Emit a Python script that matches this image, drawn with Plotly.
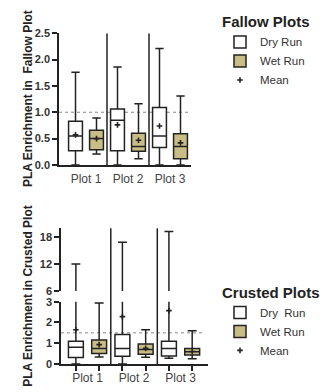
import plotly.graph_objects as go

# ---- data -------------------------------------------------------------
categories = ["Plot 1", "Plot 2", "Plot 3"]

# Fallow plots
fallow_dry_min = [0.0, 0.0, 0.0]
fallow_dry_q1 = [0.27, 0.27, 0.33]
fallow_dry_med = [0.55, 0.85, 0.55]
fallow_dry_q3 = [0.83, 1.06, 1.09]
fallow_dry_max = [1.76, 1.86, 2.21]
fallow_dry_mean = [0.57, 0.76, 0.74]

fallow_wet_min = [0.21, 0.12, 0.0]
fallow_wet_q1 = [0.29, 0.26, 0.12]
fallow_wet_med = [0.50, 0.35, 0.35]
fallow_wet_q3 = [0.66, 0.60, 0.59]
fallow_wet_max = [0.89, 1.16, 1.31]
fallow_wet_mean = [0.50, 0.47, 0.42]

# Crusted plots
crust_dry_min = [0.0, 0.0, 0.28]
crust_dry_q1 = [0.31, 0.37, 0.39]
crust_dry_med = [0.81, 0.75, 0.75]
crust_dry_q3 = [1.09, 1.42, 1.10]
crust_dry_max = [12.0, 16.9, 19.3]
crust_dry_mean = [1.65, 2.28, 2.57]

crust_wet_min = [0.34, 0.33, 0.25]
crust_wet_q1 = [0.51, 0.47, 0.43]
crust_wet_med = [0.75, 0.70, 0.59]
crust_wet_q3 = [1.15, 0.96, 0.75]
crust_wet_max = [2.93, 1.65, 1.60]
crust_wet_mean = [0.93, 0.75, 0.60]

fallow_ref = 1.0
crust_ref = 1.5

# ---- styling ----------------------------------------------------------
W, H = 333, 392
FONT = "Arial, Liberation Sans, sans-serif"
INK = "#222222"
WET = "#c9bd86"
DRY = "#ffffff"
OFF = 0.25


def px_x(p):
    return p / W


def px_y(p):
    return 1 - p / H


idx = list(range(len(categories)))
dry_x = [i - OFF for i in idx]
wet_x = [i + OFF for i in idx]

fig = go.Figure()


def add_box(name, xs, lo, q1, med, q3, hi, color, xa, ya, legend, show, width):
    fig.add_trace(go.Box(
        name=name, x=xs, lowerfence=lo, q1=q1, median=med, q3=q3, upperfence=hi,
        fillcolor=color, line=dict(color=INK, width=1.5), width=width,
        whiskerwidth=0.6, boxpoints=False, xaxis=xa, yaxis=ya,
        legend=legend, showlegend=show, hoverinfo="skip",
    ))


def add_mean(xs, ys, xa, ya, legend, show):
    fig.add_trace(go.Scatter(
        name="Mean", x=xs, y=ys, mode="markers", xaxis=xa, yaxis=ya,
        marker=dict(symbol="cross-thin", size=4, line=dict(color=INK, width=1.6), color=INK),
        legend=legend, showlegend=show, hoverinfo="skip",
    ))


# Fallow panel
add_box("Dry Run", dry_x, fallow_dry_min, fallow_dry_q1, fallow_dry_med, fallow_dry_q3,
        fallow_dry_max, DRY, "x", "y", "legend", True, 0.33)
add_box("Wet Run", wet_x, fallow_wet_min, fallow_wet_q1, fallow_wet_med, fallow_wet_q3,
        fallow_wet_max, WET, "x", "y", "legend", True, 0.33)
add_mean(dry_x + wet_x, fallow_dry_mean + fallow_wet_mean, "x", "y", "legend", True)

# Crusted panel: same boxes on the lower (0-3) and upper (6-20) segments
for ya, show in (("y2", True), ("y3", False)):
    xa = "x2" if ya == "y2" else "x3"
    add_box("Dry\u00a0 Run", dry_x, crust_dry_min, crust_dry_q1, crust_dry_med, crust_dry_q3,
            crust_dry_max, DRY, xa, ya, "legend2", show, 0.32)
    add_box("Wet Run", wet_x, crust_wet_min, crust_wet_q1, crust_wet_med, crust_wet_q3,
            crust_wet_max, WET, xa, ya, "legend2", show, 0.32)
add_mean(dry_x + wet_x, crust_dry_mean + crust_wet_mean, "x2", "y2", "legend2", True)

tick_font = dict(family=FONT, size=11, color="#333333", weight="bold")
xtick_font = dict(family=FONT, size=12, color="#444444")
axis_common = dict(showline=True, linecolor=INK, linewidth=1.5, showgrid=False,
                   zeroline=False, ticks="outside", ticklen=5, tickwidth=1.5,
                   tickcolor=INK)

top_dom_x = [px_x(59), px_x(191)]
bot_dom_x = [px_x(61), px_x(208)]

legend_title_font = dict(family=FONT, size=15, color=INK, weight="bold")
legend_font = dict(family=FONT, size=11.5, color="#333333")

fig.update_layout(
    width=W, height=H, margin=dict(l=0, r=0, t=0, b=0),
    paper_bgcolor="white", plot_bgcolor="white",
    font=dict(family=FONT, color=INK),
    xaxis=dict(domain=top_dom_x, range=[-0.643, 2.5], tickvals=idx, ticktext=categories,
               anchor="y", tickfont=xtick_font, showline=True, linecolor=INK,
               linewidth=1.5, showgrid=False, zeroline=False, ticks="", ticklabelstandoff=2),
    yaxis=dict(domain=[px_y(164), px_y(28)], range=[0, 2.5], dtick=0.5, tickformat=".1f",
               anchor="x", tickfont=tick_font, **axis_common),
    xaxis2=dict(domain=bot_dom_x, range=[-0.57, 2.59], tickvals=idx, ticktext=categories,
                anchor="y2", tickfont=xtick_font, showline=True, linecolor=INK,
                linewidth=1.5, showgrid=False, zeroline=False, ticks="",
                ticklabelstandoff=2,
                minor=dict(tickvals=dry_x + wet_x, ticks="outside", ticklen=5,
                           tickwidth=1.5, tickcolor=INK)),
    yaxis2=dict(domain=[px_y(369.3), px_y(305)], range=[0, 3], tickvals=[0, 1, 2, 3],
                anchor="x2", tickfont=tick_font, **axis_common),
    xaxis3=dict(domain=bot_dom_x, range=[-0.57, 2.59], anchor="y3", visible=False),
    yaxis3=dict(domain=[px_y(294), px_y(229.3)], range=[6, 20], tickvals=[6, 12, 18],
                anchor="x3", tickfont=tick_font, **axis_common),
    showlegend=True,
    legend=dict(x=px_x(220), y=px_y(2), xanchor="left", yanchor="top",
                title=dict(text="Fallow Plots", font=legend_title_font),
                font=legend_font, bgcolor="rgba(0,0,0,0)",
                tracegroupgap=0, itemwidth=30),
    legend2=dict(x=px_x(220), y=px_y(281), xanchor="left", yanchor="top",
                 title=dict(text="Crusted Plots", font=legend_title_font),
                 font=legend_font, bgcolor="rgba(0,0,0,0)",
                 tracegroupgap=0, itemwidth=30),
)

# y-axis titles
for label, yc in (("PLA Enrichment in  Fallow Plot", 96), ("PLA Enrichment in Crusted Plot", 299)):
    fig.add_annotation(text="<b>" + label + "</b>", xref="paper", yref="paper",
                       x=px_x(28), y=px_y(yc), xanchor="center", yanchor="middle",
                       textangle=-90, showarrow=False,
                       font=dict(family=FONT, size=12, color=INK))

# reference lines
fig.add_shape(type="line", xref="x domain", yref="y", x0=0, x1=1.0, y0=fallow_ref, y1=fallow_ref,
              line=dict(color="#888888", width=1, dash="dot"), layer="below")
fig.add_shape(type="line", xref="x2 domain", yref="y2", x0=0, x1=0.98, y0=crust_ref, y1=crust_ref,
              line=dict(color="#888888", width=1, dash="dot"), layer="below")

# group separators
for s in (0.5, 1.5):
    fig.add_shape(type="line", xref="x", yref="y", x0=s, x1=s, y0=0, y1=2.5,
                  line=dict(color=INK, width=1.5))
    fig.add_shape(type="line", xref="x2", yref="paper", x0=s, x1=s,
                  y0=px_y(369.3), y1=px_y(229.3), line=dict(color=INK, width=1.5))

fig.write_html("out.html")
